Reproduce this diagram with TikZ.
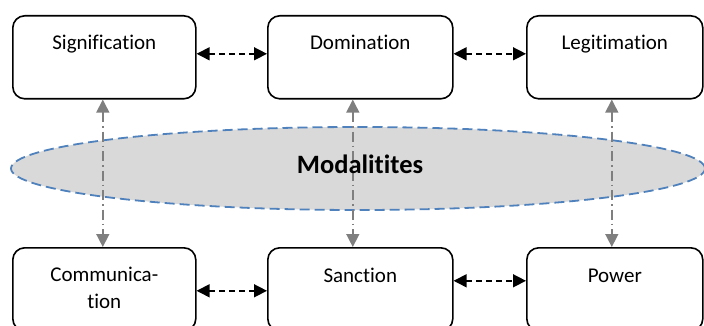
\documentclass[tikz,border=0pt]{standalone}
\usepackage{fontspec}
\setmainfont[Ligatures=CommonOff]{Carlito}
\usetikzlibrary{arrows.meta,shapes.geometric}
\definecolor{ovalfill}{HTML}{D9D9D9}
\definecolor{ovalline}{HTML}{4F81BD}
\definecolor{linkgray}{HTML}{7F7F7F}
\tikzset{
  box/.style={draw=black, line width=1.6pt, rounded corners=12pt, fill=white,
    minimum width=183pt, inner sep=0pt, anchor=north west},
  boxtext/.style={font=\fontsize{21}{27}\selectfont, anchor=base, align=center, inner sep=0pt},
  pairlink/.style={line width=1.5pt, dash pattern=on 6pt off 4pt,
    {Triangle[length=13pt,width=13pt]}-{Triangle[length=13pt,width=13pt]}},
  modlink/.style={draw=linkgray, line width=1.5pt, dash pattern=on 10pt off 4pt on 1.5pt off 4pt,
    {Triangle[length=13pt,width=13pt,fill=linkgray]}-{Triangle[length=13pt,width=13pt,fill=linkgray]}},
  oval/.style={ellipse, draw=ovalline, fill=ovalfill, line width=1.8pt,
    dash pattern=on 10pt off 5pt, inner sep=0pt}
}
\begin{document}
\begin{tikzpicture}[x=1pt,y=-1pt]
\useasboundingbox (0,0) rectangle (704,326);

% central oval of modalities
\node[oval, minimum width=694pt, minimum height=83pt] (mod) at (358,168.5) {};

% structure boxes (top row)
\node[box, minimum height=83pt] (sig) at (12,15) {};
\node[box, minimum height=83pt, minimum width=185pt] (dom) at (267,15) {};
\node[box, minimum height=83pt, minimum width=176pt] (leg) at (526,15) {};

% interaction boxes (bottom row)
\node[box, minimum height=83pt] (com) at (12,247) {};
\node[box, minimum height=83pt, minimum width=185pt] (san) at (267,247) {};
\node[box, minimum height=83pt, minimum width=176pt] (pow) at (526,247) {};

% box labels
\node[boxtext] at ([yshift=-35pt]sig.north) {Signification};
\node[boxtext] at ([yshift=-35pt]dom.north) {Domination};
\node[boxtext] at ([yshift=-35pt]leg.north) {Legitimation};
\node[boxtext] at ([yshift=-61pt]com.north) {Communica-\\tion};
\node[boxtext] at ([yshift=-35pt]san.north) {Sanction};
\node[boxtext] at ([yshift=-35pt]pow.north) {Power};

% links between neighbouring boxes
\draw[pairlink] ([yshift=3.5pt]sig.east) -- ([yshift=3.5pt]dom.west);
\draw[pairlink] ([yshift=3.5pt]dom.east) -- ([yshift=3.5pt]leg.west);
\draw[pairlink] ([yshift=-1.5pt]com.east) -- ([yshift=-1.5pt]san.west);
\draw[pairlink] ([yshift=8.5pt]san.east) -- ([yshift=8.5pt]pow.west);

% links through the modalities
\draw[modlink] ([xshift=-1.5pt]sig.south) -- ([xshift=-1.5pt]com.north);
\draw[modlink] ([xshift=-7.5pt]dom.south) -- ([xshift=-7.5pt]san.north);
\draw[modlink] ([xshift=-3pt]leg.south) -- ([xshift=-3pt]pow.north);

% oval label
\node[font=\fontsize{26.5}{32}\selectfont\bfseries, anchor=base, inner sep=0pt]
  at ([xshift=2pt,yshift=-4.5pt]mod.center) {Modalitites};
\end{tikzpicture}
\end{document}
